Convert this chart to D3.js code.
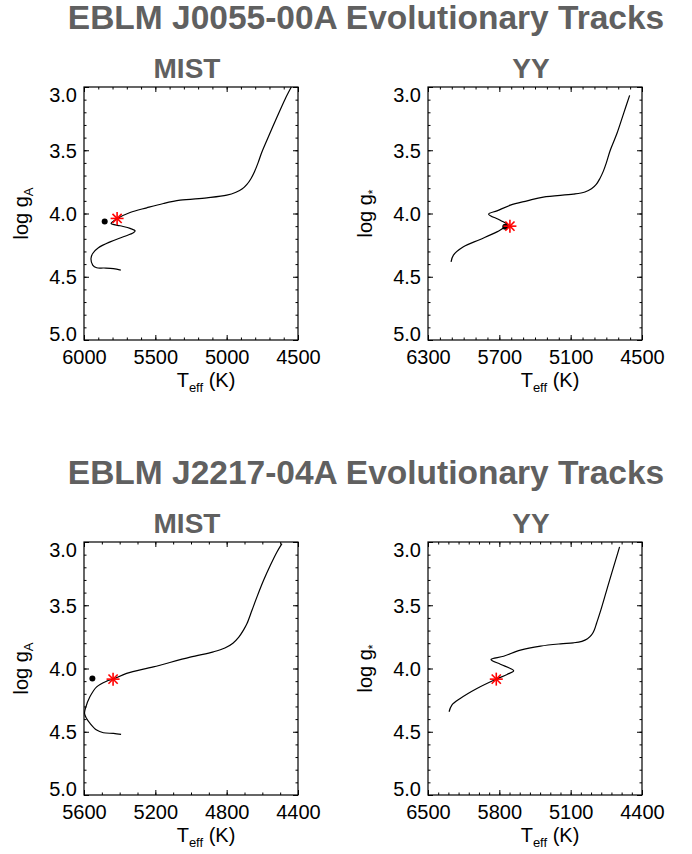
<!DOCTYPE html>
<html>
<head>
<meta charset="utf-8">
<script src="https://cdn.jsdelivr.net/npm/d3@7"></script>
<style>
  body { margin: 0; background: #fff; }
  svg { font-family: "Liberation Sans", Arial, Helvetica, sans-serif; }
</style>
</head>
<body>
<div id="chart"></div>
<script>
// EBLM J0055-00A - MIST track
const j0055MistTeff = [5742, 5794, 5860, 5911, 5939, 5951, 5939, 5899, 5817, 5724, 5654, 5642, 5677, 5747, 5810, 5794, 5766, 5677, 5560, 5443, 5326, 5139, 4999, 4935, 4890, 4858, 4830, 4805, 4780, 4755, 4718, 4647, 4589, 4547];
const j0055MistLogg = [4.448, 4.436, 4.431, 4.429, 4.408, 4.355, 4.316, 4.271, 4.224, 4.184, 4.153, 4.137, 4.118, 4.097, 4.079, 4.061, 4.039, 3.992, 3.955, 3.921, 3.895, 3.876, 3.855, 3.832, 3.805, 3.770, 3.725, 3.670, 3.600, 3.520, 3.421, 3.237, 3.092, 3.000];
const j0055MistDot = [5855, 4.063];
const j0055MistStar = [5768, 4.039];

// EBLM J0055-00A - YY track
const j0055YYTeff = [6106, 6086, 6002, 5861, 5720, 5649, 5613, 5692, 5790, 5720, 5607, 5466, 5330, 5077, 4980, 4925, 4885, 4855, 4825, 4800, 4767, 4711, 4655, 4604];
const j0055YYLogg = [4.382, 4.329, 4.263, 4.205, 4.145, 4.108, 4.100, 4.053, 4.005, 3.979, 3.934, 3.900, 3.870, 3.847, 3.830, 3.805, 3.770, 3.725, 3.665, 3.600, 3.500, 3.368, 3.210, 3.066];
const j0055YYDot = [5650, 4.105];
const j0055YYStar = [5611, 4.100];

// EBLM J2217-04A - MIST track
const j2217MistTeff = [5392, 5435, 5491, 5529, 5566, 5588, 5597, 5592, 5567, 5529, 5473, 5437, 5361, 5211, 5005, 4874, 4810, 4765, 4732, 4705, 4686, 4658, 4630, 4593, 4555, 4518, 4490];
const j2217MistLogg = [4.521, 4.513, 4.508, 4.487, 4.434, 4.390, 4.355, 4.315, 4.224, 4.145, 4.100, 4.084, 4.039, 3.987, 3.910, 3.868, 3.838, 3.800, 3.752, 3.695, 3.645, 3.540, 3.434, 3.303, 3.184, 3.079, 3.013];
const j2217MistDot = [5553, 4.079];
const j2217MistStar = [5437, 4.084];

// EBLM J2217-04A - YY track
const j2217YYTeff = [6293, 6266, 6184, 6020, 5830, 5724, 5659, 5692, 5790, 5882, 5758, 5593, 5396, 5200, 5073, 4990, 4935, 4895, 4868, 4845, 4805, 4750, 4695, 4650, 4620];
const j2217YYLogg = [4.342, 4.289, 4.237, 4.158, 4.084, 4.047, 4.018, 4.000, 3.966, 3.929, 3.903, 3.855, 3.823, 3.805, 3.797, 3.785, 3.765, 3.735, 3.695, 3.640, 3.540, 3.390, 3.240, 3.120, 3.039];
const j2217YYStar = [5830, 4.084];

// ticks
const xTicksJ0055Mist = [6000, 5500, 5000, 4500];
const xTicksJ0055YY = [6300, 5700, 5100, 4500];
const xTicksJ2217Mist = [5600, 5200, 4800, 4400];
const xTicksJ2217YY = [6500, 5800, 5100, 4400];
const yTicks = [3.0, 3.5, 4.0, 4.5, 5.0];

const titles = ["EBLM J0055-00A Evolutionary Tracks", "EBLM J2217-04A Evolutionary Tracks"];

const W = 692, H = 854;
const boxW = 214, boxH = 253;
const rowTop = [87, 542];
const colLeft = [84, 428];

const panels = [
  { row: 0, col: 0, name: "MIST", sub: "A", teff: j0055MistTeff, logg: j0055MistLogg, xTicks: xTicksJ0055Mist, dot: j0055MistDot, star: j0055MistStar },
  { row: 0, col: 1, name: "YY", sub: "*", teff: j0055YYTeff, logg: j0055YYLogg, xTicks: xTicksJ0055YY, dot: j0055YYDot, star: j0055YYStar },
  { row: 1, col: 0, name: "MIST", sub: "A", teff: j2217MistTeff, logg: j2217MistLogg, xTicks: xTicksJ2217Mist, dot: j2217MistDot, star: j2217MistStar },
  { row: 1, col: 1, name: "YY", sub: "*", teff: j2217YYTeff, logg: j2217YYLogg, xTicks: xTicksJ2217YY, dot: null, star: j2217YYStar }
];

const svg = d3.select("#chart").append("svg").attr("width", W).attr("height", H);

// titulos grandes
titles.forEach((t, i) => {
  svg.append("text")
    .attr("x", 366)
    .attr("y", rowTop[i] - 58)
    .attr("text-anchor", "middle")
    .attr("font-size", 33.5)
    .attr("font-weight", "bold")
    .attr("fill", "#606060")
    .text(t);
});

function styleAxis(sel) {
  sel.select(".domain").remove();
  sel.selectAll("line").attr("stroke", "#000");
  sel.attr("font-family", null).attr("font-size", 20);
  sel.selectAll("text").attr("fill", "#000");
}

panels.forEach((p) => {
  const g = svg.append("g").attr("transform", `translate(${colLeft[p.col]},${rowTop[p.row]})`);

  const x = d3.scaleLinear().domain([p.xTicks[0], p.xTicks[p.xTicks.length - 1]]).range([0, boxW]);
  const y = d3.scaleLinear().domain([3, 5]).range([0, boxH]);

  const xMinor = d3.range(d3.min(p.xTicks), d3.max(p.xTicks) + 1, 100);
  const yMinor = d3.range(30, 51).map((v) => v / 10);

  // ticks menores en los 4 lados
  g.append("g").attr("transform", `translate(0,${boxH})`)
    .call(d3.axisBottom(x).tickValues(xMinor).tickSizeInner(-2.5).tickSizeOuter(0).tickFormat(""))
    .call(styleAxis);
  g.append("g")
    .call(d3.axisTop(x).tickValues(xMinor).tickSizeInner(-2.5).tickSizeOuter(0).tickFormat(""))
    .call(styleAxis);
  g.append("g")
    .call(d3.axisLeft(y).tickValues(yMinor).tickSizeInner(-2.5).tickSizeOuter(0).tickFormat(""))
    .call(styleAxis);
  g.append("g").attr("transform", `translate(${boxW},0)`)
    .call(d3.axisRight(y).tickValues(yMinor).tickSizeInner(-2.5).tickSizeOuter(0).tickFormat(""))
    .call(styleAxis);

  // ticks mayores
  g.append("g").attr("transform", `translate(0,${boxH})`)
    .call(d3.axisBottom(x).tickValues(p.xTicks).tickSizeInner(-5).tickSizeOuter(0).tickPadding(10).tickFormat(d3.format("d")))
    .call(styleAxis);
  g.append("g")
    .call(d3.axisTop(x).tickValues(p.xTicks).tickSizeInner(-5).tickSizeOuter(0).tickFormat(""))
    .call(styleAxis);
  const yAxisG = g.append("g")
    .call(d3.axisLeft(y).tickValues(yTicks).tickSizeInner(-5).tickSizeOuter(0).tickPadding(7).tickFormat(d3.format(".1f")))
    .call(styleAxis);
  // como en IDL: la primera etiqueta cuelga hacia abajo, la ultima se apoya en el borde
  yAxisG.selectAll("text")
    .attr("dy", (d, i, n) => (i === 0 ? "0.7em" : i === n.length - 1 ? "0em" : "0.35em"));
  g.append("g").attr("transform", `translate(${boxW},0)`)
    .call(d3.axisRight(y).tickValues(yTicks).tickSizeInner(-5).tickSizeOuter(0).tickFormat(""))
    .call(styleAxis);

  // caja
  g.append("rect")
    .attr("width", boxW).attr("height", boxH)
    .attr("fill", "none").attr("stroke", "#000").attr("stroke-width", 1.2);

  // subtitulo
  g.append("text")
    .attr("x", boxW / 2 - 4)
    .attr("y", -9)
    .attr("text-anchor", "middle")
    .attr("font-size", 28)
    .attr("font-weight", "bold")
    .attr("fill", "#606060")
    .text(p.name);

  // track
  const line = d3.line()
    .x((d) => x(d[0]))
    .y((d) => y(d[1]))
    .curve(d3.curveCatmullRom.alpha(0.5));

  g.append("path")
    .datum(d3.zip(p.teff, p.logg))
    .attr("d", line)
    .attr("fill", "none")
    .attr("stroke", "#000")
    .attr("stroke-width", 1.2);

  if (p.dot) {
    g.append("circle")
      .attr("cx", x(p.dot[0]))
      .attr("cy", y(p.dot[1]))
      .attr("r", 3)
      .attr("fill", "#000");
  }

  // asterisco rojo
  const star = g.append("g").attr("transform", `translate(${x(p.star[0])},${y(p.star[1])})`);
  [0, 45, 90, 135].forEach((a) => {
    star.append("line")
      .attr("x1", -6.5).attr("x2", 6.5)
      .attr("y1", 0).attr("y2", 0)
      .attr("transform", `rotate(${a})`)
      .attr("stroke", "#ff0000")
      .attr("stroke-width", 1.6);
  });

  // etiqueta eje x
  const xl = g.append("text")
    .attr("x", boxW / 2 + 15)
    .attr("y", boxH + 47)
    .attr("text-anchor", "middle")
    .attr("font-size", 20)
    .attr("fill", "#000");
  xl.append("tspan").text("T");
  xl.append("tspan").attr("font-size", 13).attr("dy", 5).text("eff");
  xl.append("tspan").attr("dy", -5).text(" (K)");

  // etiqueta eje y
  const yl = g.append("text")
    .attr("transform", `translate(-56,${boxH / 2}) rotate(-90)`)
    .attr("text-anchor", "middle")
    .attr("font-size", 20)
    .attr("fill", "#000");
  yl.append("tspan").text("log g");
  yl.append("tspan").attr("font-size", p.sub === "*" ? 12 : 13).attr("dy", 5).text(p.sub);
});
</script>
</body>
</html>
